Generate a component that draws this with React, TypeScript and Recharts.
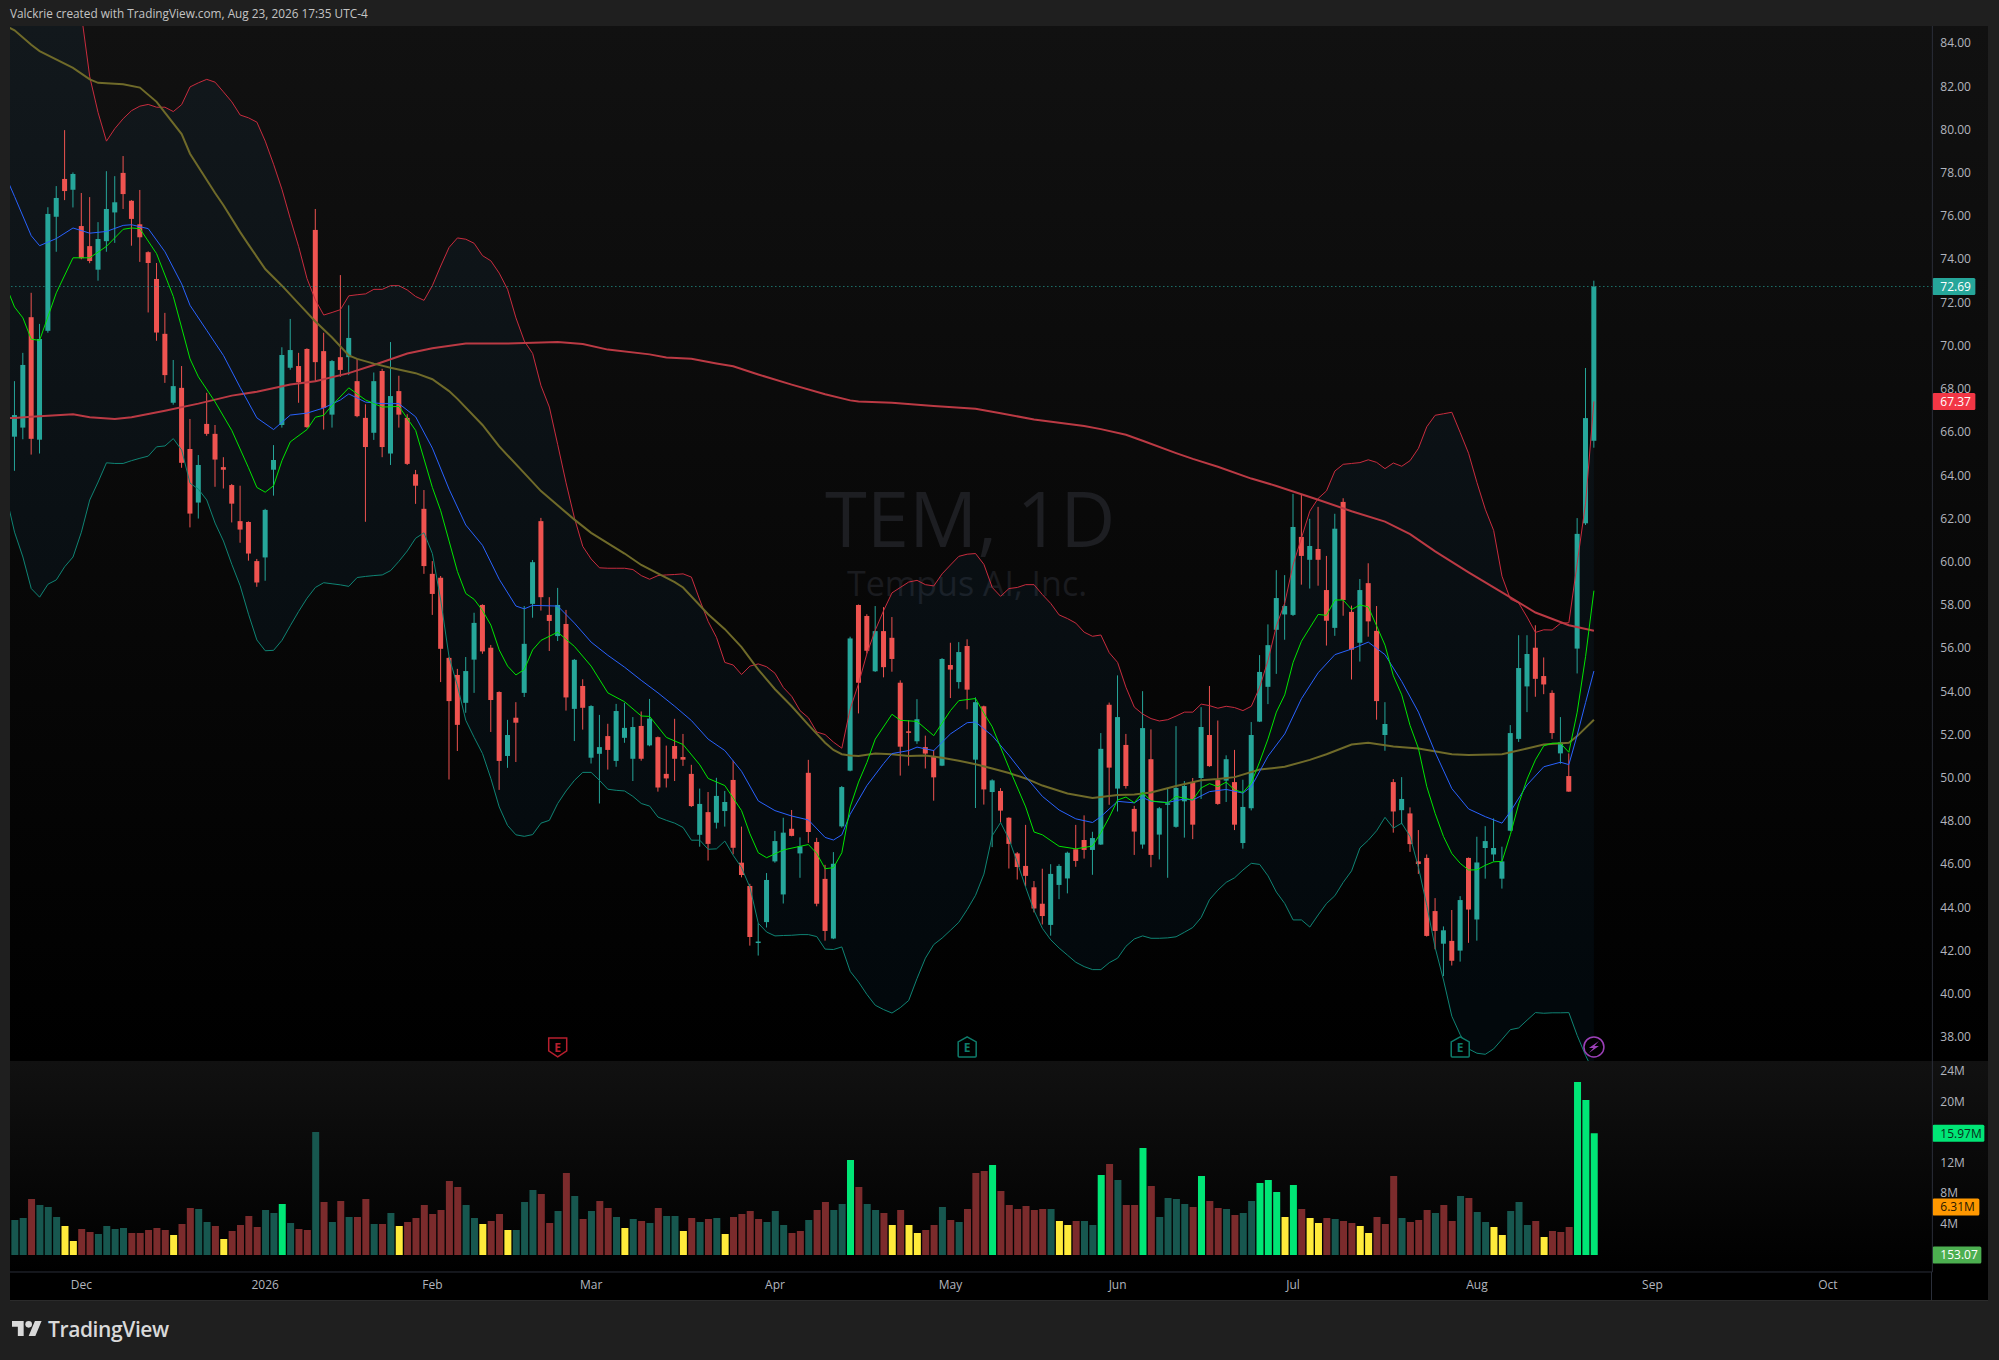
import { Area, Bar, Cell, ComposedChart, Line, ReferenceDot, ReferenceLine, XAxis, YAxis } from "recharts";

const FONT = '"Open Sans", sans-serif';
const UP = "#26a69a";
const DOWN = "#ef5350";
const AXIS = "#2a2e39";
const FUTURE_SLOTS = 40;

const opens = [
  65.74, 66.16, 71.27, 65.6, 70.64, 75.92, 77.67, 77.17, 75.49, 74.56,
  73.47, 74.79, 76.12, 77.95, 76.66, 75.57, 74.28, 73.04, 70.5, 67.31,
  68.0, 65.17, 62.69, 66.33, 65.87, 64.33, 63.5, 61.83, 61.79, 59.98,
  60.15, 64.21, 66.28, 68.93, 69.01, 69.8, 75.31, 69.7, 66.76, 69.42,
  69.42, 68.31, 66.61, 65.92, 68.78, 64.96, 67.85, 66.61, 64.0, 62.4,
  59.39, 59.21, 55.5, 54.71, 53.42, 55.42, 57.95, 55.97, 53.92, 50.96,
  52.73, 53.88, 58.0, 61.83, 57.49, 56.51, 57.07, 53.14, 54.2, 50.88,
  51.06, 51.88, 50.73, 51.8, 50.83, 52.35, 51.45, 51.83, 50.13, 51.42,
  50.91, 50.13, 47.31, 48.36, 47.87, 48.41, 49.85, 46.02, 44.94, 42.33,
  43.27, 46.08, 44.55, 47.59, 46.45, 50.18, 46.98, 45.27, 42.51, 47.7,
  50.28, 57.95, 57.44, 54.88, 56.74, 56.43, 54.35, 52.1, 51.64, 51.37,
  50.96, 50.51, 55.17, 54.38, 56.05, 50.79, 53.26, 49.29, 49.34, 48.1,
  46.45, 45.87, 44.88, 44.12, 43.14, 44.99, 45.29, 46.64, 47.07, 46.61,
  46.86, 53.33, 49.45, 51.47, 48.51, 46.86, 50.81, 47.32, 48.7, 47.68,
  48.86, 49.75, 49.94, 51.93, 49.84, 49.82, 49.75, 46.93, 48.54, 52.55,
  54.16, 56.8, 57.51, 57.49, 61.1, 60.04, 60.54, 58.64, 56.89, 62.72,
  57.63, 56.2, 58.96, 56.75, 51.93, 49.75, 48.45, 48.3, 46.08, 46.24,
  43.78, 42.27, 42.4, 41.95, 46.24, 43.39, 46.7, 46.4, 45.28, 47.5,
  51.75, 54.18, 55.97, 54.66, 53.88, 51.08, 50.03, 55.93, 61.73, 65.55,
];
const highs = [
  68.31, 69.62, 72.4, 70.96, 76.36, 77.34, 79.93, 77.97, 77.02, 76.83,
  75.67, 78.03, 77.8, 78.73, 76.69, 77.16, 74.32, 73.78, 71.47, 69.29,
  69.01, 66.56, 64.89, 67.77, 66.28, 64.79, 63.55, 63.47, 61.82, 60.08,
  62.4, 65.35, 69.88, 71.19, 69.62, 69.83, 76.28, 70.55, 69.29, 73.22,
  71.82, 69.34, 67.24, 68.71, 68.88, 70.12, 68.56, 66.78, 64.2, 63.27,
  59.98, 59.29, 55.54, 54.99, 55.54, 57.59, 57.98, 56.1, 53.95, 52.63,
  53.45, 57.9, 60.03, 61.98, 58.31, 58.74, 57.72, 55.45, 54.51, 53.31,
  52.86, 52.45, 53.37, 53.42, 52.76, 53.02, 53.6, 51.86, 51.44, 52.68,
  51.98, 50.55, 49.45, 49.29, 49.95, 49.34, 50.74, 47.69, 45.04, 43.22,
  45.54, 47.49, 48.1, 48.46, 47.19, 50.78, 47.17, 45.92, 46.51, 49.57,
  56.48, 57.97, 57.52, 57.9, 57.85, 57.39, 54.46, 52.61, 53.59, 51.9,
  51.24, 55.49, 56.2, 56.23, 56.36, 53.67, 53.29, 49.88, 49.47, 48.12,
  46.51, 47.77, 45.17, 45.74, 45.95, 45.95, 46.53, 47.77, 48.21, 47.45,
  52.02, 53.43, 54.69, 51.98, 48.65, 53.96, 52.19, 48.6, 49.45, 52.34,
  49.8, 49.94, 53.22, 54.2, 52.6, 50.99, 51.24, 49.86, 52.53, 55.63,
  57.05, 59.56, 59.33, 63.09, 63.05, 61.94, 62.49, 60.22, 62.17, 62.89,
  57.92, 59.15, 59.88, 57.9, 53.45, 49.89, 49.98, 48.58, 47.53, 46.4,
  44.38, 43.07, 43.83, 44.47, 46.26, 47.22, 47.71, 48.07, 46.76, 52.39,
  56.55, 56.55, 57.01, 55.52, 54.0, 52.76, 51.08, 61.97, 68.92, 72.96,
];
const lows = [
  64.16, 65.62, 64.91, 64.96, 70.55, 74.3, 76.69, 76.35, 73.95, 73.77,
  72.96, 74.3, 74.71, 76.28, 74.58, 73.83, 71.49, 70.18, 68.23, 67.22,
  64.3, 61.54, 61.95, 65.78, 63.42, 63.34, 61.77, 60.83, 60.0, 58.79,
  59.07, 63.01, 66.16, 68.84, 67.31, 66.15, 68.3, 66.07, 66.16, 68.51,
  68.59, 66.64, 61.8, 65.59, 64.79, 64.43, 66.16, 64.43, 62.63, 59.39,
  57.49, 54.38, 49.87, 51.19, 52.96, 53.88, 55.69, 52.07, 49.39, 50.41,
  50.68, 53.69, 57.36, 57.69, 55.82, 56.28, 53.06, 51.65, 52.18, 50.61,
  48.76, 50.33, 50.46, 51.57, 49.8, 50.74, 51.41, 49.31, 49.5, 49.8,
  50.5, 48.6, 46.76, 46.12, 47.6, 47.69, 46.41, 45.34, 42.18, 41.72,
  43.02, 46.02, 44.13, 47.24, 45.32, 46.94, 44.0, 42.41, 42.48, 47.64,
  50.25, 52.93, 55.7, 54.85, 54.6, 54.86, 50.05, 50.51, 51.52, 50.38,
  48.89, 50.49, 53.64, 54.08, 53.12, 48.55, 48.71, 46.74, 47.88, 45.75,
  45.24, 44.93, 43.72, 43.16, 42.64, 44.33, 44.6, 45.83, 46.21, 45.46,
  46.84, 48.7, 48.39, 49.45, 46.38, 46.67, 45.81, 46.17, 45.32, 47.64,
  47.18, 47.11, 48.97, 50.46, 48.7, 48.83, 47.53, 46.67, 48.44, 52.53,
  53.36, 54.76, 56.34, 57.44, 58.89, 58.71, 58.84, 56.07, 56.52, 57.45,
  54.5, 55.33, 56.48, 52.64, 51.2, 47.41, 47.8, 46.52, 45.5, 42.6,
  42.01, 40.77, 41.26, 41.44, 42.31, 42.41, 45.28, 46.08, 44.82, 47.48,
  51.61, 52.99, 53.7, 53.82, 51.75, 50.6, 49.3, 54.78, 61.65, 65.23,
];
const closes = [
  66.74, 69.06, 65.64, 70.26, 76.05, 76.79, 77.11, 77.9, 74.0, 73.87,
  74.89, 76.28, 76.59, 76.97, 75.82, 74.97, 73.78, 70.56, 68.59, 68.08,
  64.53, 62.18, 64.43, 65.87, 64.68, 64.21, 62.64, 61.44, 60.33, 58.99,
  62.35, 64.66, 69.52, 69.75, 68.26, 66.18, 69.19, 67.07, 69.24, 68.83,
  70.31, 66.69, 65.26, 68.31, 65.26, 67.62, 66.76, 64.48, 63.47, 59.75,
  58.46, 55.92, 53.5, 52.4, 54.89, 57.12, 55.8, 53.55, 50.73, 51.93,
  52.5, 56.15, 59.93, 58.31, 57.21, 57.95, 53.67, 55.41, 53.19, 53.27,
  51.37, 51.24, 53.04, 52.26, 52.3, 50.83, 52.69, 49.5, 49.92, 50.83,
  50.79, 48.64, 48.74, 46.89, 49.11, 48.83, 46.71, 45.45, 42.58, 42.37,
  45.22, 47.02, 47.41, 47.26, 46.78, 47.44, 44.12, 42.86, 45.97, 49.52,
  56.4, 54.35, 55.83, 56.74, 55.07, 55.45, 51.39, 52.08, 52.66, 51.07,
  49.97, 55.45, 54.96, 55.77, 54.03, 53.45, 49.41, 49.83, 48.43, 46.89,
  45.82, 45.41, 43.9, 43.55, 45.5, 45.87, 46.48, 46.1, 46.61, 47.16,
  51.29, 50.42, 52.76, 49.57, 47.46, 52.25, 46.38, 48.54, 48.77, 49.48,
  49.57, 47.78, 52.3, 50.49, 48.74, 50.81, 47.78, 48.6, 51.93, 54.85,
  56.09, 58.27, 57.9, 61.56, 60.22, 60.68, 60.04, 57.22, 61.48, 58.18,
  55.88, 58.64, 57.19, 53.5, 52.44, 48.39, 48.97, 46.88, 45.96, 42.63,
  42.86, 42.89, 41.48, 44.29, 43.85, 46.03, 47.02, 46.7, 46.08, 52.02,
  55.03, 55.68, 54.53, 54.27, 52.02, 51.59, 49.31, 61.24, 66.6, 72.69,
];

const volumes = [
  4.59, 4.85, 7.34, 6.56, 6.3, 4.98, 3.8, 1.84, 3.41, 3.02,
  2.75, 3.8, 3.41, 3.54, 2.89, 2.89, 3.28, 3.54, 3.28, 2.62,
  4.07, 6.16, 6.03, 4.33, 3.8, 2.1, 3.15, 3.93, 5.11, 3.67,
  5.9, 5.51, 6.69, 4.2, 3.41, 3.28, 16.13, 6.95, 4.33, 7.08,
  4.98, 4.98, 7.34, 4.07, 4.07, 5.51, 3.8, 4.33, 4.85, 6.56,
  5.38, 5.9, 9.7, 8.92, 6.56, 4.85, 4.07, 4.46, 5.38, 3.28,
  3.28, 6.95, 8.52, 8.0, 4.2, 5.77, 10.75, 7.74, 4.72, 5.77,
  7.08, 6.16, 4.98, 3.54, 4.72, 4.46, 4.2, 6.16, 5.11, 5.11,
  3.15, 4.85, 4.33, 4.72, 4.85, 2.75, 4.98, 5.38, 5.77, 4.72,
  4.33, 5.77, 3.93, 2.89, 3.15, 4.59, 5.9, 6.95, 5.9, 6.69,
  12.46, 8.92, 6.69, 5.9, 5.51, 3.93, 5.9, 3.93, 2.89, 3.28,
  3.93, 6.3, 4.59, 4.33, 6.03, 10.75, 11.02, 11.8, 8.39, 6.56,
  6.03, 6.43, 5.9, 6.03, 6.03, 4.46, 3.93, 4.46, 4.46, 3.93,
  10.49, 11.93, 9.84, 6.56, 6.56, 14.03, 9.05, 4.98, 7.48, 7.34,
  6.69, 6.3, 10.36, 7.08, 6.16, 6.03, 5.25, 5.51, 7.08, 9.44,
  9.84, 8.26, 4.98, 9.18, 6.03, 4.85, 4.2, 4.85, 4.72, 4.46,
  4.2, 3.8, 2.89, 4.98, 4.07, 10.36, 4.85, 4.33, 4.59, 5.9,
  5.51, 6.56, 4.46, 7.74, 7.48, 5.64, 4.33, 3.67, 2.62, 5.77,
  6.95, 3.93, 4.46, 2.36, 3.15, 3.02, 3.67, 22.69, 20.33, 15.97,
];
const volumeTones = (
  "ttrtttyyrr" + "ttttrrrrry" + "rrttryrrrr" + "ttGtrrtrtr" + "trrtrtyrrr" + "rrrrttyrry" + "tttrrtrtrt" +
  "rrtytrtrtt" + "yrtrtyrrrr" + "tttrrtrrtt" + "Grttryryyr" + "rtrtrrrGrr" + "rrrrtyyrtt" + "GrtrrGrttt" +
  "trGrrtrttG" + "GGyGryyrtr" + "ryyrrrtrrr" + "trrtrttyyt" + "ttryrrrGGG"
).split("");
const toneColors: Record<string, string> = { t: "#17574f", r: "#7b2b2c", y: "#ffeb3b", G: "#00e676" };

const upperBand = [
  100, 98, 97, 95, 93, 91, 89, 87, 85.29, 82.4,
  80.74, 79.42, 80.0, 80.46, 80.83, 81.04, 81.12, 80.99, 80.99, 80.79,
  81.11, 81.93, 82.12, 82.28, 82.15, 81.7, 81.24, 80.63, 80.5, 80.3,
  79.42, 78.35, 77.19, 75.83, 74.54, 73.06, 72.07, 71.37, 71.49, 71.62,
  72.26, 72.31, 72.35, 72.56, 72.56, 72.73, 72.73, 72.53, 72.23, 72.05,
  72.73, 73.64, 74.5, 74.94, 74.88, 74.69, 74.12, 73.88, 73.31, 72.56,
  71.24, 70.17, 69.59, 68.1, 67.11, 65.37, 63.6, 61.98, 60.66, 60.08,
  59.67, 59.65, 59.65, 59.65, 59.59, 59.31, 59.14, 59.31, 59.34, 59.36,
  59.39, 59.24, 58.18, 57.19, 56.45, 55.29, 55.17, 54.73, 55.12, 55.22,
  55.09, 54.79, 54.13, 53.72, 53.06, 52.73, 52.07, 51.95, 51.6, 51.32,
  53.14, 54.3, 55.7, 56.78, 57.69, 58.51, 58.76, 59.01, 59.09, 58.89,
  58.83, 59.39, 59.8, 60.2, 60.3, 60.33, 59.83, 58.76, 58.35, 58.71,
  58.76, 58.89, 58.89, 58.43, 58.02, 57.49, 57.32, 57.11, 56.69, 56.5,
  56.56, 55.74, 55.29, 54.14, 53.22, 52.9, 52.69, 52.58, 52.64, 52.81,
  52.99, 52.99, 53.36, 53.29, 53.17, 53.26, 53.2, 53.06, 53.26, 54.14,
  55.38, 56.98, 58.04, 59.81, 61.05, 62.29, 62.88, 63.23, 64.15, 64.46,
  64.5, 64.54, 64.67, 64.55, 64.26, 64.52, 64.37, 64.63, 65.2, 66.2,
  66.73, 66.8, 66.87, 65.93, 64.97, 63.62, 62.38, 61.4, 59.28, 58.22,
  58.04, 57.39, 56.68, 56.8, 56.79, 57.1, 57.13, 59.88, 62.66, 67.37,
];
const lowerBand = [
  61.32, 60.17, 58.71, 58.31, 58.91, 59.11, 59.72, 60.17, 61.32, 62.81,
  63.64, 64.53, 64.5, 64.5, 64.63, 64.74, 64.84, 65.27, 65.31, 65.65,
  65.12, 63.59, 63.31, 62.81, 61.74, 60.91, 59.83, 58.84, 57.52, 56.33,
  55.83, 55.85, 56.31, 56.99, 57.65, 58.26, 58.76, 58.98, 58.93, 58.88,
  58.81, 59.22, 59.27, 59.31, 59.34, 59.54, 59.97, 60.45, 61.04, 61.29,
  60.33, 58.18, 55.54, 54.21, 52.61, 51.82, 51.07, 49.92, 48.6, 47.74,
  47.31, 47.24, 47.32, 47.85, 47.98, 48.76, 49.34, 49.83, 50.2, 50.2,
  49.83, 49.42, 49.37, 49.34, 49.09, 48.76, 48.64, 48.13, 47.98, 47.85,
  47.65, 47.06, 47.06, 46.64, 46.66, 47.02, 46.36, 45.79, 44.88, 43.22,
  42.81, 42.63, 42.65, 42.66, 42.69, 42.69, 42.6, 42.02, 42.0, 42.12,
  40.99, 40.5, 39.92, 39.42, 39.22, 39.06, 39.31, 39.64, 40.66, 41.6,
  42.23, 42.53, 42.89, 43.26, 43.85, 44.51, 45.49, 47.27, 47.88, 47.11,
  46.03, 44.88, 43.8, 42.98, 42.45, 42.07, 41.74, 41.41, 41.21, 41.07,
  41.07, 41.39, 41.6, 42.15, 42.49, 42.63, 42.52, 42.52, 42.54, 42.59,
  42.8, 43.02, 43.48, 44.31, 44.75, 45.11, 45.32, 45.68, 45.99, 45.94,
  45.41, 44.66, 44.13, 43.37, 43.37, 43.04, 43.6, 44.13, 44.49, 45.11,
  45.64, 46.7, 47.06, 47.5, 48.12, 47.62, 47.85, 47.23, 45.81, 44.04,
  42.09, 40.59, 38.91, 38.06, 37.4, 37.2, 37.15, 37.4, 37.84, 38.29,
  38.37, 38.73, 39.08, 39.05, 39.07, 39.07, 39.08, 38.02, 37.1, 36.3,
];

// [bar, value] pairs read at the line's bends; bar -1 is the session left of the frame
const greenLine: [number, number][] = [
  [-1, 72.7], [0, 71.74], [1, 71.24], [2, 70.25], [3, 70.2], [5, 72.4], [7, 74.02], [9, 74.02], [11, 74.55], [13, 75.34], [14, 75.4],
  [15, 75.37], [17, 74.21], [19, 72.23], [21, 69.34], [22, 68.51], [24, 67.35], [26, 66.03], [28, 64.3], [29, 63.39], [30, 63.17],
  [31, 63.47], [32, 64.63], [33, 65.5], [35, 66.07], [36, 66.64], [37, 66.73], [38, 67.19], [40, 68.0], [42, 67.44], [44, 67.11],
  [46, 67.14], [48, 66.03], [49, 64.71], [50, 63.39], [51, 62.31], [52, 60.91], [53, 59.5], [54, 58.48], [55, 58.21], [56, 57.69],
  [57, 57.02], [58, 55.87], [59, 55.12], [60, 54.71], [61, 54.96], [62, 55.87], [63, 56.31], [65, 56.69], [67, 56.03], [69, 55.12],
  [71, 53.88], [73, 53.47], [75, 52.81], [76, 52.79], [78, 51.82], [80, 51.49], [82, 50.55], [83, 49.92], [85, 49.59], [87, 48.43],
  [88, 47.36], [89, 46.48], [90, 46.25], [92, 46.61], [95, 46.86], [96, 46.45], [97, 45.74], [98, 45.79], [99, 46.48], [100, 48.6],
  [101, 49.75], [102, 50.66], [103, 51.74], [105, 52.89], [106, 52.61], [108, 52.56], [110, 51.9], [111, 52.48], [112, 53.06], [113, 53.52],
  [115, 53.62], [116, 52.94], [117, 52.31], [119, 50.41], [121, 48.6], [122, 47.44], [123, 47.31], [125, 46.78], [127, 46.66], [129, 46.79],
  [130, 47.41], [131, 48.12], [132, 48.92], [133, 49.06], [134, 48.79], [135, 49.27], [136, 48.88], [138, 48.79], [139, 49.09], [141, 48.92],
  [142, 49.48], [143, 49.68], [144, 49.54], [145, 49.75], [146, 49.39], [147, 49.27], [148, 49.71], [149, 50.69], [150, 51.75], [151, 52.99],
  [152, 53.79], [153, 55.29], [154, 56.27], [155, 56.89], [156, 57.51], [157, 57.47], [158, 58.18], [159, 58.18], [160, 57.74], [161, 57.95],
  [162, 57.86], [163, 56.98], [164, 56.09], [165, 54.67], [166, 53.79], [167, 52.37], [168, 51.31], [169, 49.54], [170, 48.3], [171, 47.23],
  [172, 46.44], [173, 45.99], [174, 45.68], [175, 45.69], [176, 45.9], [177, 46.06], [178, 46.08], [179, 47.32], [180, 48.74], [181, 49.89],
  [182, 50.78], [183, 51.43], [184, 51.55], [185, 51.55], [186, 51.13], [187, 52.99], [188, 55.56], [189, 58.61],
];
const blueLine: [number, number][] = [
  [-1, 77.75], [0, 76.86], [2, 75.04], [3, 74.58], [5, 74.91], [7, 75.4], [9, 75.16], [11, 75.24], [13, 75.52], [14, 75.55], [16, 75.37],
  [18, 74.3], [20, 72.81], [21, 71.82], [23, 70.66], [25, 69.5], [27, 68.02], [29, 66.61], [31, 66.07], [33, 66.74], [35, 66.83],
  [37, 67.07], [39, 67.44], [40, 67.72], [42, 67.34], [44, 67.27], [46, 67.27], [48, 66.66], [50, 65.21], [52, 63.31], [54, 61.65],
  [56, 60.71], [58, 59.14], [60, 57.9], [61, 57.77], [62, 57.93], [65, 57.9], [67, 57.11], [69, 56.23], [71, 55.62], [73, 55.07],
  [75, 54.46], [77, 53.88], [79, 53.26], [81, 52.6], [83, 51.74], [85, 51.21], [87, 50.25], [89, 48.88], [91, 48.43], [93, 48.18],
  [95, 48.0], [97, 47.19], [98, 47.07], [99, 47.31], [100, 48.26], [102, 49.59], [104, 50.61], [105, 51.07], [107, 51.21], [108, 51.37],
  [110, 51.21], [112, 51.98], [114, 52.5], [115, 52.53], [117, 51.9], [119, 50.99], [121, 50.0], [123, 49.09], [125, 48.46], [127, 48.05],
  [129, 47.88], [130, 48.15], [132, 48.86], [134, 48.79], [135, 49.04], [136, 48.86], [138, 48.81], [140, 48.97], [141, 48.92], [143, 49.31],
  [145, 49.41], [147, 49.24], [148, 49.54], [150, 50.95], [152, 51.98], [154, 53.61], [156, 54.81], [158, 55.65], [160, 55.91], [162, 56.23],
  [164, 55.65], [166, 54.41], [168, 52.99], [170, 51.13], [172, 49.45], [174, 48.51], [176, 48.15], [178, 47.85], [179, 48.38], [181, 49.62],
  [183, 50.46], [185, 50.67], [186, 50.56], [187, 51.93], [188, 53.43], [189, 54.89],
];
const oliveLine: [number, number][] = [
  [-1, 84.75], [0, 84.55], [2, 83.88], [3, 83.59], [7, 82.81], [9, 82.28], [10, 82.12], [13, 82.05], [15, 81.9], [17, 81.24], [20, 79.75],
  [21, 78.84], [24, 77.02], [25, 76.45], [27, 75.21], [28, 74.63], [30, 73.5], [32, 72.73], [34, 71.9], [36, 71.07], [38, 70.33],
  [40, 69.5], [41, 69.34], [43, 69.12], [45, 68.93], [48, 68.68], [50, 68.4], [52, 67.85], [53, 67.49], [56, 66.28], [58, 65.29],
  [61, 64.05], [63, 63.22], [67, 61.9], [69, 61.29], [73, 60.33], [75, 59.8], [79, 59.01], [80, 58.76], [83, 57.52], [85, 56.83],
  [87, 56.0], [89, 54.96], [91, 54.05], [93, 53.26], [95, 52.4], [97, 51.57], [98, 51.24], [99, 51.04], [100, 50.98], [101, 50.96],
  [103, 51.07], [105, 51.04], [107, 50.96], [109, 50.98], [111, 50.88], [113, 50.74], [115, 50.58], [117, 50.38], [119, 50.17], [121, 49.92],
  [123, 49.59], [126, 49.22], [129, 49.02], [132, 49.15], [134, 49.18], [136, 49.27], [139, 49.57], [142, 49.84], [144, 49.89], [146, 49.98],
  [149, 50.33], [152, 50.46], [155, 50.78], [157, 51.04], [160, 51.49], [162, 51.57], [165, 51.4], [168, 51.31], [172, 51.04], [174, 51.01],
  [178, 51.04], [181, 51.31], [183, 51.49], [186, 51.57], [187, 51.88], [189, 52.64],
];
const redLine: [number, number][] = [
  [-1, 66.6], [0, 66.61], [2, 66.66], [7, 66.78], [9, 66.64], [12, 66.56], [14, 66.64], [18, 66.94], [22, 67.27], [26, 67.64], [29, 67.82],
  [33, 68.15], [36, 68.31], [40, 68.68], [43, 69.06], [47, 69.59], [50, 69.83], [54, 70.05], [59, 70.05], [65, 70.12], [68, 70.03],
  [71, 69.77], [76, 69.55], [78, 69.4], [81, 69.35], [84, 69.13], [86, 69.0], [89, 68.62], [93, 68.15], [97, 67.7], [100, 67.42],
  [101, 67.37], [105, 67.31], [110, 67.16], [115, 67.03], [118, 66.82], [122, 66.54], [128, 66.23], [130, 66.09], [133, 65.83], [135, 65.55],
  [139, 64.98], [141, 64.71], [144, 64.35], [148, 63.8], [151, 63.46], [156, 62.82], [160, 62.29], [164, 61.81], [167, 61.23], [170, 60.43],
  [174, 59.46], [179, 58.3], [182, 57.6], [186, 57.01], [189, 56.76],
];
const leadInUpper = 102;
const leadInLower = 63.0;

const priceTicks = [38, 40, 42, 44, 46, 48, 50, 52, 54, 56, 58, 60, 62, 64, 66, 68, 70, 72, 74, 76, 78, 80, 82, 84];
const volumeTicks = [4, 8, 12, 20, 24];
const timeTicks = [8, 30, 50, 69, 91, 112, 132, 153, 175, 196, 217];
const timeLabels = ["Dec", "2026", "Feb", "Mar", "Apr", "May", "Jun", "Jul", "Aug", "Sep", "Oct"];
const earningsBars = [65, 114, 173];
const earningsTones = ["#b71f2e", "#0e7c6b", "#0e7c6b"];

const lookup = (points: [number, number][], i: number) => {
  const hit = points.find((p) => p[0] === i);
  return hit ? hit[1] : null;
};

const rows: any[] = [
  {
    idx: -1,
    upper: leadInUpper,
    lower: leadInLower,
    green: lookup(greenLine, -1),
    blue: lookup(blueLine, -1),
    olive: lookup(oliveLine, -1),
    red: lookup(redLine, -1),
  },
  ...Array.from({ length: opens.length + FUTURE_SLOTS }, (_, i) =>
    i < opens.length
      ? {
          idx: i,
          open: opens[i],
          high: highs[i],
          low: lows[i],
          close: closes[i],
          upper: upperBand[i],
          lower: lowerBand[i],
          green: lookup(greenLine, i),
          blue: lookup(blueLine, i),
          olive: lookup(oliveLine, i),
          red: lookup(redLine, i),
          volume: volumes[i],
          tone: volumeTones[i],
        }
      : { idx: i }
  ),
];

const Candle = (props: any) => {
  const { x, y, width, height, payload } = props;
  if (!payload || payload.open == null) return null;
  const { open, high, low, close } = payload;
  const perUnit = height / (high - low);
  const bodyTop = y + (high - Math.max(open, close)) * perUnit;
  const bodyHeight = Math.max(Math.abs(open - close) * perUnit, 1.5);
  const color = close >= open ? UP : DOWN;
  const mid = x + width / 2 - 0.4;
  return (
    <g>
      <line x1={mid} x2={mid} y1={y} y2={y + height} stroke={color} strokeWidth={1} />
      <rect x={x - 0.4} y={bodyTop} width={width} height={bodyHeight} fill={color} />
    </g>
  );
};

const AxisTag = ({ viewBox, text, fill, color = "#ffffff", width = 43 }: any) => {
  if (!viewBox) return null;
  const left = viewBox.x + viewBox.width;
  return (
    <g>
      <rect x={left} y={viewBox.y - 8.5} width={width} height={17} rx={1.5} fill={fill} />
      <text x={left + 8} y={viewBox.y + 4.5} fontSize={12} fontFamily={FONT} fill={color}>
        {text}
      </text>
    </g>
  );
};

const EarningsBadge = ({ cx, cy, color, down }: any) => {
  const path = down
    ? `M${cx - 9} ${cy - 9}h18v13l-9 6l-9 -6z`
    : `M${cx} ${cy - 10}l9 5v14a1 1 0 0 1 -1 1h-16a1 1 0 0 1 -1 -1v-14z`;
  return (
    <g>
      <path d={path} fill="#000" stroke={color} strokeWidth={1.5} />
      <text x={cx} y={cy + 5} textAnchor="middle" fontSize={12} fontWeight={700} fontFamily={FONT} fill={color}>
        E
      </text>
    </g>
  );
};

const BoltBadge = ({ cx, cy }: any) => (
  <g>
    <circle cx={cx} cy={cy} r={10} fill="#000" stroke="#9c40b8" strokeWidth={1.5} />
    <path d={`M${cx + 5} ${cy - 6}L${cx - 5} ${cy + 1}h4.5L${cx - 5} ${cy + 6}L${cx + 5} ${cy - 1}h-4.5z`} fill="#9c40b8" />
  </g>
);

const paneBackground = "linear-gradient(#111111, #000000)";
const seriesProps = { type: "linear" as const, dot: false, activeDot: false, isAnimationActive: false };

export default function App() {
  return (
    <div style={{ position: "absolute", left: 0, top: 0, width: 1999, height: 1360, background: "#1f1f1f", overflow: "hidden" }}>
      <div style={{ position: "absolute", left: 10, top: 5, fontFamily: FONT, fontSize: 11.8, fontWeight: 500, color: "#c4c4c4", whiteSpace: "nowrap" }}>
        Valckrie created with TradingView.com, Aug 23, 2026 17:35 UTC-4
      </div>

      {/* panes */}
      <div style={{ position: "absolute", left: 10, top: 26, width: 1978, height: 1035, background: paneBackground }} />
      <div style={{ position: "absolute", left: 10, top: 1061, width: 1978, height: 211, background: paneBackground }} />
      <div style={{ position: "absolute", left: 10, top: 1272, width: 1978, height: 28, background: "#000", borderBottom: "1px solid #2b2b2b" }} />
      <div style={{ position: "absolute", left: 1931, top: 1272, width: 1, height: 28, background: AXIS }} />

      {/* watermark */}
      <div style={{ position: "absolute", left: 825, top: 466, fontFamily: FONT, fontSize: 76, color: "#1d1e22", whiteSpace: "nowrap" }}>TEM, 1D</div>
      <div style={{ position: "absolute", left: 847, top: 560, fontFamily: FONT, fontSize: 34, color: "#1a1b1f", whiteSpace: "nowrap" }}>Tempus AI, Inc.</div>

      <div style={{ position: "absolute", left: 1.64, top: 26 }}>
        <ComposedChart width={1986.36} height={1035} data={rows} margin={{ top: 0, right: 0, bottom: 0, left: 0 }}>
          <XAxis dataKey="idx" type="category" scale="band" hide />
          <YAxis
            orientation="right"
            width={56}
            domain={[36.84, 84.75]}
            allowDataOverflow
            ticks={priceTicks}
            interval={0}
            tickFormatter={(v: number) => v.toFixed(2)}
            tick={{ fill: "#b2b5be", fontSize: 12, fontFamily: FONT, dy: 1 }}
            tickLine={false}
            tickMargin={2}
            axisLine={{ stroke: AXIS }}
          />
          <Area
            {...seriesProps}
            dataKey={(row: any) => (row.upper == null ? null : [row.lower, row.upper])}
            stroke="none"
            fill="#2196f3"
            fillOpacity={0.05}
          />
          <Bar dataKey={(row: any) => (row.high == null ? null : [row.low, row.high])} barSize={5} shape={Candle} isAnimationActive={false} />
          <Line {...seriesProps} dataKey="upper" stroke="#c92c3e" strokeWidth={1} />
          <Line {...seriesProps} dataKey="lower" stroke="#0f8574" strokeWidth={1} />
          <Line {...seriesProps} dataKey="red" connectNulls stroke="#bb3a44" strokeWidth={2} />
          <Line {...seriesProps} dataKey="olive" connectNulls stroke="#6f6a29" strokeWidth={2} />
          <Line {...seriesProps} dataKey="blue" connectNulls stroke="#2962ff" strokeWidth={1} />
          <Line {...seriesProps} dataKey="green" connectNulls stroke="#00e600" strokeWidth={1} />
          <ReferenceLine y={72.69} stroke={UP} strokeDasharray="1 3" label={<AxisTag text="72.69" fill={UP} />} />
          <ReferenceLine y={67.37} stroke="none" label={<AxisTag text="67.37" fill="#f23645" />} />
          {earningsBars.map((bar, i) => (
            <ReferenceDot
              key={bar}
              x={bar}
              y={37.49}
              ifOverflow="visible"
              shape={(p: any) => <EarningsBadge {...p} color={earningsTones[i]} down={i === 0} />}
            />
          ))}
          <ReferenceDot x={189} y={37.49} ifOverflow="visible" shape={BoltBadge} />
        </ComposedChart>
      </div>

      <div style={{ position: "absolute", left: 1.64, top: 1061 }}>
        <ComposedChart width={1986.36} height={239} data={rows} margin={{ top: 0, right: 0, bottom: 0, left: 0 }}>
          <XAxis
            dataKey="idx"
            type="category"
            scale="band"
            height={28}
            ticks={timeTicks}
            interval={0}
            tickFormatter={(v: number) => timeLabels[timeTicks.indexOf(v)]}
            tick={{ fill: "#b2b5be", fontSize: 12, fontFamily: FONT }}
            tickLine={false}
            tickMargin={2.5}
            axisLine={{ stroke: AXIS }}
          />
          <YAxis
            orientation="right"
            width={56}
            domain={[-2.23, 25.44]}
            allowDataOverflow
            ticks={volumeTicks}
            interval={0}
            tickFormatter={(v: number) => `${v}M`}
            tick={{ fill: "#b2b5be", fontSize: 12, fontFamily: FONT, dy: -1 }}
            tickLine={false}
            tickMargin={2}
            axisLine={{ stroke: AXIS }}
          />
          <Bar dataKey="volume" barSize={7} isAnimationActive={false}>
            {rows.map((row: any) => (
              <Cell key={row.idx} fill={toneColors[row.tone] ?? "transparent"} />
            ))}
          </Bar>
          <ReferenceLine y={15.97} stroke="none" label={<AxisTag text="15.97M" fill="#00e676" color="#0b2a1a" width={52} />} />
          <ReferenceLine y={6.31} stroke="none" label={<AxisTag text="6.31M" fill="#ff9800" color="#2a1a00" width={47} />} />
          <ReferenceLine y={0} stroke="none" label={<AxisTag text="153.07" fill="#4caf50" width={49} />} />
        </ComposedChart>
      </div>

      {/* left frame strip hides the lead-in slot */}
      <div style={{ position: "absolute", left: 0, top: 26, width: 10, height: 1275, background: "#1f1f1f" }} />

      {/* logo */}
      <svg style={{ position: "absolute", left: 12, top: 1321 }} width={30} height={15} viewBox="0 4 36 18">
        <path d="M14 22H7V11H0V4h14v18zM28 22h-8l7.5-18h8L28 22z" fill="#d9d9d9" />
        <circle cx="20" cy="8" r="4" fill="#d9d9d9" />
      </svg>
      <div style={{ position: "absolute", left: 48, top: 1315, fontFamily: FONT, fontSize: 21, fontWeight: 600, letterSpacing: -0.4, color: "#d9d9d9", whiteSpace: "nowrap" }}>
        TradingView
      </div>
    </div>
  );
}
